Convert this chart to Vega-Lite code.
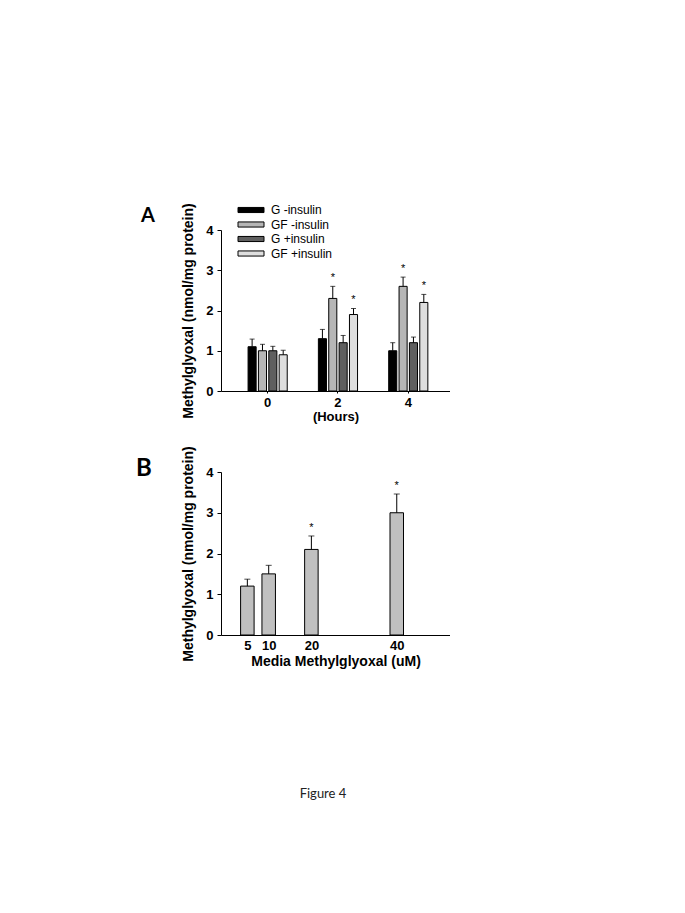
{
  "$schema": "https://vega.github.io/schema/vega-lite/v6.json",
  "background": "white",
  "padding": {"left": 136, "top": 202, "right": 0, "bottom": 0},
  "bounds": "flush",
  "spacing": 81,
  "config": {
    "font": "Liberation Sans",
    "view": {"stroke": null},
    "axis": {
      "grid": false,
      "domainColor": "black",
      "tickColor": "black",
      "labelColor": "black",
      "titleColor": "black",
      "labelFont": "Liberation Sans",
      "titleFont": "Liberation Sans",
      "labelFontSize": 13,
      "labelFontWeight": "bold",
      "titleFontSize": 14,
      "titleFontWeight": "bold"
    }
  },
  "title": {
    "text": "Figure 4",
    "orient": "bottom",
    "anchor": "middle",
    "offset": 120,
    "dx": 30,
    "font": "Lato",
    "fontSize": 13,
    "fontWeight": "normal",
    "color": "#222222"
  },
  "vconcat": [
    {
      "width": 229,
      "height": 161,
      "title": {"text": "A", "anchor": "start", "frame": "group", "font": "Lato", "fontSize": 20, "fontWeight": "bold", "color": "black", "dx": -80, "dy": 23, "offset": 0},
      "data": {"values": [
        {"hour": "0", "group": "G -insulin", "value": 1.1, "upper": 1.29, "sig": ""},
        {"hour": "0", "group": "GF -insulin", "value": 1.0, "upper": 1.16, "sig": ""},
        {"hour": "0", "group": "G +insulin", "value": 1.0, "upper": 1.11, "sig": ""},
        {"hour": "0", "group": "GF +insulin", "value": 0.9, "upper": 1.01, "sig": ""},
        {"hour": "2", "group": "G -insulin", "value": 1.3, "upper": 1.53, "sig": ""},
        {"hour": "2", "group": "GF -insulin", "value": 2.3, "upper": 2.6, "sig": "*"},
        {"hour": "2", "group": "G +insulin", "value": 1.2, "upper": 1.38, "sig": ""},
        {"hour": "2", "group": "GF +insulin", "value": 1.9, "upper": 2.05, "sig": "*"},
        {"hour": "4", "group": "G -insulin", "value": 1.0, "upper": 1.2, "sig": ""},
        {"hour": "4", "group": "GF -insulin", "value": 2.6, "upper": 2.83, "sig": "*"},
        {"hour": "4", "group": "G +insulin", "value": 1.2, "upper": 1.34, "sig": ""},
        {"hour": "4", "group": "GF +insulin", "value": 2.2, "upper": 2.4, "sig": "*"}
      ]},
      "encoding": {
        "x": {
          "field": "hour", "type": "nominal",
          "scale": {"paddingInner": 0.443, "paddingOuter": 0.35, "align": 0.55},
          "axis": {"labelAngle": 0, "tickSize": 2, "labelPadding": 3, "titlePadding": 1, "titleFontSize": 13},
          "title": "(Hours)"
        },
        "xOffset": {
          "field": "group", "type": "nominal",
          "sort": ["G -insulin", "GF -insulin", "G +insulin", "GF +insulin"],
          "scale": {"paddingInner": 0.22}
        }
      },
      "layer": [
        {
          "mark": {"type": "bar", "stroke": "black", "strokeWidth": 1},
          "encoding": {
            "y": {
              "field": "value", "type": "quantitative",
              "scale": {"domain": [0, 4]},
              "axis": {"values": [0, 1, 2, 3, 4], "tickSize": 4, "labelPadding": 4, "titlePadding": 10},
              "title": "Methylglyoxal (nmol/mg protein)"
            },
            "color": {
              "field": "group", "type": "nominal",
              "scale": {"domain": ["G -insulin", "GF -insulin", "G +insulin", "GF +insulin"], "range": ["#000000", "#b6b6b6", "#5f5f5f", "#dedede"]},
              "legend": {
                "orient": "none", "legendX": 11, "legendY": -26, "title": null,
                "symbolType": "M0,-0.85H8.67V0.85H0Z", "symbolSize": 36,
                "symbolStrokeColor": "black", "symbolStrokeWidth": 1, "symbolOpacity": 1,
                "labelFontSize": 12, "labelFont": "Liberation Sans", "labelColor": "black",
                "labelOffset": 27, "rowPadding": 2.5, "padding": 0
              }
            }
          }
        },
        {
          "mark": {"type": "rule", "color": "black", "strokeWidth": 1},
          "encoding": {"y": {"field": "value", "type": "quantitative"}, "y2": {"field": "upper"}}
        },
        {
          "mark": {"type": "tick", "color": "black", "thickness": 1, "size": 5, "orient": "horizontal"},
          "encoding": {"y": {"field": "upper", "type": "quantitative"}}
        },
        {
          "mark": {"type": "text", "baseline": "bottom", "dy": -3, "fontSize": 11, "color": "black"},
          "encoding": {"y": {"field": "upper", "type": "quantitative"}, "text": {"field": "sig"}}
        }
      ]
    },
    {
      "width": 229,
      "height": 163,
      "title": {"text": "B", "anchor": "start", "frame": "group", "font": "Lato", "fontSize": 24, "fontWeight": "bold", "color": "black", "dx": -85, "dy": 35, "offset": 0},
      "data": {"values": [
        {"conc": 5, "value": 1.2, "upper": 1.37, "sig": ""},
        {"conc": 10, "value": 1.5, "upper": 1.71, "sig": ""},
        {"conc": 20, "value": 2.1, "upper": 2.43, "sig": "*"},
        {"conc": 40, "value": 3.0, "upper": 3.46, "sig": "*"}
      ]},
      "encoding": {
        "x": {
          "field": "conc", "type": "quantitative",
          "scale": {"domain": [0, 51.3], "nice": false, "zero": true},
          "axis": {"values": [5, 10, 20, 40], "ticks": false, "labelPadding": 4, "titlePadding": 2, "labelFlush": false},
          "title": "Media Methylglyoxal (uM)"
        }
      },
      "layer": [
        {
          "mark": {"type": "bar", "size": 13.5, "fill": "#c0c0c0", "stroke": "black", "strokeWidth": 1},
          "encoding": {
            "y": {
              "field": "value", "type": "quantitative",
              "scale": {"domain": [0, 4]},
              "axis": {"values": [0, 1, 2, 3, 4], "tickSize": 4, "labelPadding": 4, "titlePadding": 10},
              "title": "Methylglyoxal (nmol/mg protein)"
            }
          }
        },
        {
          "mark": {"type": "rule", "color": "black", "strokeWidth": 1},
          "encoding": {"y": {"field": "value", "type": "quantitative"}, "y2": {"field": "upper"}}
        },
        {
          "mark": {"type": "tick", "color": "black", "thickness": 1, "size": 6, "orient": "horizontal"},
          "encoding": {"y": {"field": "upper", "type": "quantitative"}}
        },
        {
          "mark": {"type": "text", "baseline": "bottom", "dy": -3, "fontSize": 11, "color": "black"},
          "encoding": {"y": {"field": "upper", "type": "quantitative"}, "text": {"field": "sig"}}
        }
      ]
    }
  ]
}
